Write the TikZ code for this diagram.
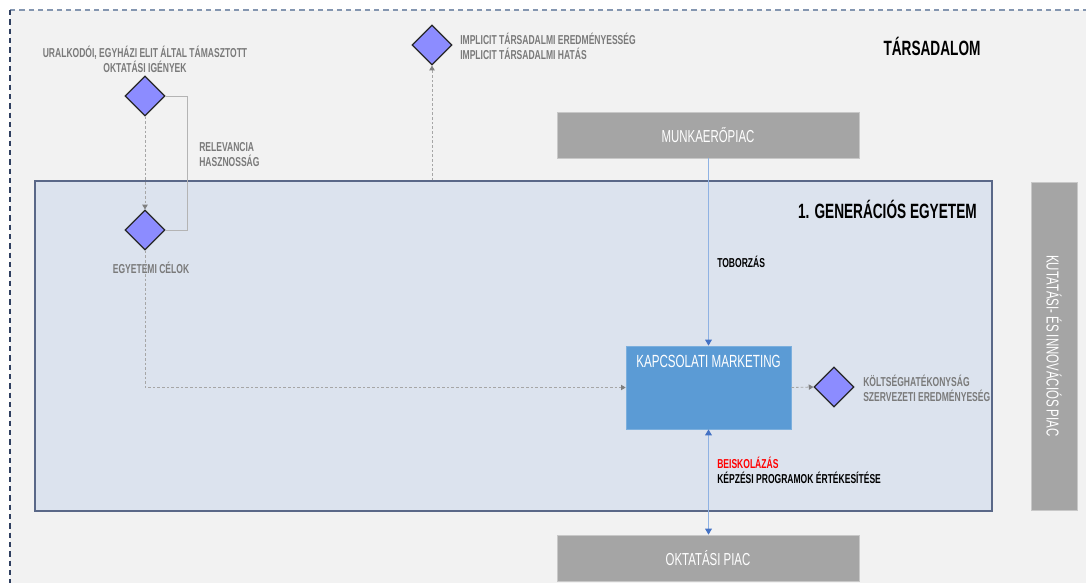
\documentclass[tikz,border=0pt]{standalone}
\usepackage{fontspec}
\setmainfont{Liberation Sans}[FakeStretch=0.66]
\usetikzlibrary{shapes.geometric,arrows.meta}

\definecolor{pagegrey}{HTML}{F2F2F2}
\definecolor{unifill}{HTML}{DCE3EE}
\definecolor{uniedge}{HTML}{5A6888}
\definecolor{marketbox}{HTML}{A5A5A5}
\definecolor{marketedge}{HTML}{C8C8C8}
\definecolor{kmblue}{HTML}{5B9BD5}
\definecolor{lightblue}{HTML}{8FB2E3}
\definecolor{tipblue}{HTML}{4472C4}
\definecolor{goalfill}{HTML}{8C8CFF}
\definecolor{labelgrey}{HTML}{7A7A7A}
\definecolor{linkgrey}{HTML}{A6A6A6}
\definecolor{tipgrey}{HTML}{7F7F7F}
\definecolor{topdash}{HTML}{8496B0}
\definecolor{leftdash}{HTML}{2F3F60}
\definecolor{redtext}{HTML}{FF0000}

\tikzset{
  market/.style={draw=marketedge, line width=0.5pt, fill=marketbox, text=white,
    font=\fontsize{13}{15}\selectfont, inner sep=0pt},
  goal/.style={diamond, aspect=1, draw=black!85, line width=0.9pt, fill=goalfill,
    minimum size=30pt, inner sep=0pt},
  greylabel/.style={text=labelgrey, font=\bfseries\fontsize{9.7}{11.25}\selectfont,
    inner sep=0pt},
  blacklabel/.style={text=black, font=\bfseries\fontsize{9.7}{11.25}\selectfont,
    inner sep=0pt},
  heading/.style={text=black, font=\bfseries\fontsize{15.5}{18}\selectfont, inner sep=0pt},
  softlink/.style={draw=linkgrey, line width=0.6pt, dash pattern=on 2pt off 1.5pt,
    -{Triangle[width=4pt,length=3.5pt,color=tipgrey]}},
  plainlink/.style={draw=marketedge!90!black, line width=0.6pt},
  flowlink/.style={draw=lightblue, line width=0.9pt},
  bluetip/.tip={Triangle[width=5pt,length=4.5pt,color=tipblue]},
}

\begin{document}
\begin{tikzpicture}[x=0.75pt, y=-0.75pt]
  \useasboundingbox (0,0) rectangle (1086,583);

  % society background and its dashed border
  \fill[pagegrey] (10,10) rectangle (1086,583);
  \draw[topdash, line width=0.9pt, dash pattern=on 4pt off 3pt] (10,10) -- (1086,10);
  \draw[leftdash, line width=0.9pt, dash pattern=on 4pt off 3pt] (10,10) -- (10,583);

  % university frame
  \node[draw=uniedge, line width=1.1pt, fill=unifill, minimum width=717.75pt,
        minimum height=247.5pt, inner sep=0pt] (uni) at (513.5,346) {};

  % headings
  \node[heading] (society) at (932,46) {TÁRSADALOM};
  \node[heading, anchor=east] (unititle) at (977,209) {1. GENERÁCIÓS EGYETEM};

  % markets
  \node[market, minimum width=226.5pt, minimum height=34.5pt] (labour) at (708,135) {MUNKAERŐPIAC};
  \node[market, minimum width=226.5pt, minimum height=34.5pt] (edu) at (708,558) {OKTATÁSI PIAC};
  \node[market, rotate=-90, minimum width=246pt, minimum height=34.5pt] (research) at (1054,346)
        {KUTATÁSI- ÉS INNOVÁCIÓS PIAC};

  % relationship marketing
  \node[fill=kmblue, draw=kmblue!80!white, line width=0.5pt, minimum width=123.75pt,
        minimum height=62.25pt, inner sep=0pt,
        label={[text=white, font=\fontsize{13.2}{16}\selectfont, anchor=north, inner sep=0pt,
                yshift=-7pt]north:KAPCSOLATI MARKETING}] (km) at (708.5,387.5) {};

  % goal diamonds
  \node[goal] (demand) at (145,96) {};
  \node[goal] (aims) at (145,230) {};
  \node[goal] (social) at (432,45) {};
  \node[goal] (cost) at (834,387) {};

  % grey labels
  \node[greylabel, align=center] (demandtext) at (145,59.5)
        {URALKODÓI, EGYHÁZI ELIT ÁLTAL TÁMASZTOTT\\OKTATÁSI IGÉNYEK};
  \node[greylabel, align=left, anchor=west] (relevance) at (199,154.5)
        {RELEVANCIA\\HASZNOSSÁG};
  \node[greylabel] (aimstext) at (151,268) {EGYETEMI CÉLOK};
  \node[greylabel, align=left, anchor=west] (socialtext) at (460,46.5)
        {IMPLICIT TÁRSADALMI EREDMÉNYESSÉG\\IMPLICIT TÁRSADALMI HATÁS};
  \node[greylabel, align=left, anchor=west] (costtext) at (863,388)
        {KÖLTSÉGHATÉKONYSÁG\\SZERVEZETI EREDMÉNYESÉG};

  % flow labels
  \node[blacklabel, anchor=west] (recruit) at (717,262) {TOBORZÁS};
  \node[blacklabel, anchor=west, text=redtext] (enrol) at (717,462.5) {BEISKOLÁZÁS};
  \node[blacklabel, anchor=west] (sales) at (717,478) {KÉPZÉSI PROGRAMOK ÉRTÉKESÍTÉSE};

  % connectors between diamonds and boxes
  \draw[softlink] (demand.south) -- (aims.north);
  \draw[plainlink] (demand.east) -| (187,230) -- (aims.east);
  \draw[softlink] (aims.south) |- (km.west);
  \draw[softlink] (km.east) -- (cost.west);
  \draw[softlink] (uni.north -| social.south) -- (social.south);

  % market flows
  \draw[flowlink, -bluetip] (labour.south -| km.north) -- (km.north);
  \draw[flowlink, bluetip-bluetip] (km.south) -- (edu.north -| km.south);
\end{tikzpicture}
\end{document}
